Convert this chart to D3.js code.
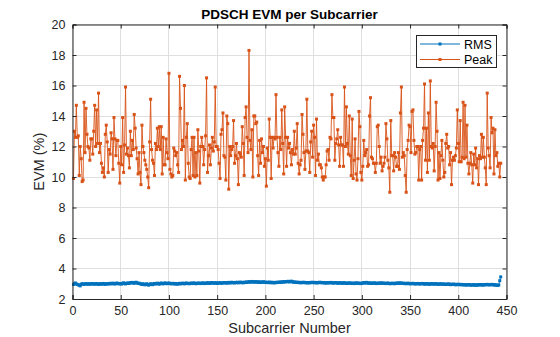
<!DOCTYPE html>
<html><head><meta charset="utf-8">
<script src="https://cdn.jsdelivr.net/npm/d3@7"></script>
<style>
html,body{margin:0;padding:0;background:#fff;}
svg{display:block;font-family:"Liberation Sans",Arial,Helvetica,sans-serif;}
</style></head>
<body><svg id="c" width="560" height="337"></svg>
<script>
const titleText = "PDSCH EVM per Subcarrier";
const xLabelText = "Subcarrier Number";
const yLabelText = "EVM (%)";
const seriesNames = ["RMS", "Peak"];
const xTicks = [0,50,100,150,200,250,300,350,400,450];
const yTicks = [2,4,6,8,10,12,14,16,18,20];

const rmsValues = [
2.95,3.02,3.05,2.98,2.96,2.93,2.90,2.86,2.97,3.00,2.98,2.96,2.99,3.01,2.97,2.98,3.00,2.97,2.99,3.01,
2.98,3.00,2.97,2.99,3.01,2.98,2.96,2.99,3.00,2.97,2.99,3.02,2.98,2.96,3.00,3.01,2.98,3.00,3.03,2.99,
3.01,3.04,3.00,2.98,3.02,3.05,3.01,2.99,3.02,3.00,2.98,3.03,3.06,3.01,2.99,3.03,3.05,3.02,3.04,3.07,
3.05,3.09,3.06,3.03,3.07,3.10,3.05,3.02,3.04,3.01,2.98,2.95,3.00,2.96,2.93,2.97,3.00,2.94,2.91,2.96,
3.00,2.97,2.94,2.99,3.02,2.98,3.01,3.04,3.00,2.97,3.02,3.05,3.01,2.99,3.03,3.06,3.02,3.00,3.03,3.05,
3.02,2.99,3.01,3.03,3.00,2.98,3.02,2.99,2.97,3.01,3.03,2.99,3.01,3.04,3.02,2.99,3.03,3.05,3.01,3.03,
3.00,3.02,3.05,3.01,3.03,3.06,3.02,3.00,3.04,3.02,3.05,3.03,3.01,3.04,3.06,3.03,3.01,3.05,3.03,3.07,
3.04,3.02,3.05,3.08,3.04,3.06,3.03,3.07,3.05,3.02,3.06,3.04,3.07,3.05,3.03,3.06,3.08,3.05,3.07,3.04,
3.06,3.09,3.05,3.07,3.10,3.06,3.08,3.05,3.09,3.07,3.10,3.06,3.08,3.11,3.07,3.09,3.06,3.10,3.08,3.12,
3.09,3.11,3.14,3.10,3.12,3.15,3.11,3.13,3.10,3.14,3.12,3.09,3.13,3.11,3.08,3.12,3.10,3.13,3.09,3.11,
3.08,3.10,3.07,3.11,3.09,3.06,3.10,3.08,3.05,3.09,3.07,3.10,3.08,3.11,3.09,3.12,3.10,3.13,3.11,3.14,
3.12,3.15,3.13,3.16,3.12,3.14,3.17,3.13,3.10,3.12,3.09,3.11,3.08,3.10,3.07,3.09,3.06,3.08,3.10,3.07,
3.09,3.06,3.08,3.05,3.08,3.06,3.09,3.07,3.10,3.08,3.06,3.09,3.07,3.05,3.08,3.10,3.07,3.09,3.06,3.08,
3.05,3.07,3.04,3.06,3.08,3.05,3.07,3.09,3.06,3.04,3.07,3.05,3.08,3.06,3.03,3.05,3.07,3.04,3.06,3.03,
3.05,3.07,3.04,3.02,3.05,3.03,3.06,3.04,3.02,3.05,3.03,3.01,3.04,3.06,3.03,3.05,3.02,3.04,3.01,3.03,
3.05,3.08,3.04,3.06,3.09,3.05,3.03,3.06,3.04,3.02,3.05,3.03,3.06,3.04,3.01,3.03,3.05,3.02,3.04,3.06,
3.03,3.05,3.02,3.04,3.01,3.03,3.05,3.02,3.00,3.03,3.01,3.04,3.02,3.00,3.03,3.05,3.02,3.04,3.06,3.03,
3.05,3.02,3.04,3.01,3.03,3.00,3.02,3.04,3.01,2.99,3.02,3.00,3.03,3.01,2.98,3.01,2.99,3.02,3.00,2.98,
3.01,2.99,3.02,3.00,2.97,3.00,2.98,3.01,2.99,2.96,2.99,3.01,2.98,3.00,2.97,2.99,3.01,2.98,2.96,2.99,
2.97,3.00,2.98,2.96,2.99,2.97,2.95,2.98,2.96,2.99,2.97,2.94,2.97,2.95,2.98,2.96,2.93,2.96,2.94,2.97,
2.95,2.93,2.96,2.94,2.92,2.95,2.93,2.91,2.94,2.92,2.95,2.93,2.90,2.93,2.91,2.94,2.92,2.90,2.93,2.91,
2.94,2.92,2.95,2.93,2.91,2.94,2.92,2.95,2.93,2.96,2.94,2.92,2.95,2.93,2.96,2.94,2.91,2.94,2.92,2.90,
2.90,2.92,3.20,3.45
];

const peakValues = [
9.9,13.0,12.6,14.7,12.6,12.7,10.1,12.0,11.2,9.7,
9.8,14.9,11.6,14.5,12.8,12.0,11.9,11.1,12.5,12.5,
11.5,13.0,14.7,12.0,14.4,12.2,15.5,11.6,12.2,10.9,
10.3,10.6,10.0,12.8,13.4,12.3,10.3,11.8,11.5,12.9,
12.5,10.5,13.9,12.5,11.4,12.4,12.4,10.9,9.6,12.0,
10.8,13.9,10.3,12.1,15.9,11.5,11.9,11.4,10.6,13.0,
11.4,12.4,11.8,14.1,13.2,11.9,11.2,10.2,11.6,10.3,
9.5,13.4,12.0,11.6,11.1,10.8,10.5,10.0,9.3,12.3,
15.1,11.8,11.1,10.9,10.1,12.2,11.8,13.2,12.0,13.3,
11.8,13.3,10.2,12.6,10.8,10.8,12.5,11.6,11.2,16.8,
10.5,10.2,10.0,10.1,11.9,11.7,11.4,11.6,10.8,10.3,
16.6,14.5,11.8,12.4,12.0,16.0,9.8,12.6,13.5,10.9,
10.0,9.9,11.8,12.6,10.1,12.6,10.0,11.6,10.1,13.1,
11.7,9.6,12.0,12.6,12.0,10.8,11.8,12.7,16.5,10.3,
11.4,12.1,10.8,11.9,12.6,11.7,12.3,15.9,12.0,12.0,
11.8,10.9,9.9,12.8,13.1,14.2,11.4,11.3,9.8,14.0,
13.5,9.2,12.0,11.4,11.8,12.0,13.7,10.9,11.4,12.2,
11.2,9.5,11.6,11.5,11.3,13.3,12.2,10.1,13.9,14.6,
12.6,11.6,18.3,12.4,11.8,13.1,10.0,14.0,14.0,13.5,
13.6,11.4,10.1,12.4,10.9,12.5,11.6,12.0,10.7,11.2,
9.4,11.9,11.1,13.8,12.6,9.9,12.6,11.9,12.6,12.5,
15.4,12.6,11.6,10.7,12.6,11.8,14.4,12.2,10.2,14.6,
12.6,10.7,12.6,11.9,12.2,11.6,10.8,11.8,11.5,13.0,
11.5,11.9,13.5,10.9,10.2,10.8,11.1,14.1,12.8,11.6,
10.5,11.7,15.1,11.7,11.6,10.3,12.3,13.0,11.3,13.4,
12.6,10.1,13.8,11.1,11.5,10.8,10.8,10.6,10.0,9.8,
10.0,10.0,10.8,11.7,11.8,11.1,12.6,12.5,15.4,13.9,
13.9,11.1,12.2,12.5,13.1,12.1,10.7,12.6,12.1,12.1,
10.7,15.9,12.0,14.6,12.2,11.5,14.0,11.4,10.1,13.8,
9.9,11.1,12.5,10.2,9.8,11.2,14.3,13.3,10.3,9.8,
10.7,12.4,11.4,11.6,11.8,10.7,10.8,14.0,15.2,11.3,
11.2,10.9,10.9,10.3,10.9,13.3,13.4,12.0,10.9,11.3,
10.4,10.7,10.9,11.3,13.5,12.5,11.1,10.6,9.0,13.7,
11.4,11.4,10.4,11.6,11.3,10.7,10.7,11.6,10.5,14.2,
15.9,11.3,11.6,11.4,10.1,9.0,11.8,12.4,13.4,13.3,
11.6,14.3,14.4,12.4,11.5,11.6,12.0,12.0,9.8,11.8,
12.0,9.8,12.4,13.2,16.1,11.1,13.2,10.3,14.2,11.1,
16.3,12.0,11.9,12.2,10.4,12.0,14.9,13.0,9.8,11.6,
9.9,11.4,12.4,11.1,10.0,10.3,12.2,12.8,11.9,12.0,
10.8,11.6,9.5,11.1,11.3,11.1,11.4,11.9,14.4,12.2,
11.0,13.7,11.0,11.3,14.9,11.2,14.7,11.3,13.4,10.9,
10.2,10.9,11.6,10.8,9.6,11.5,10.8,11.9,10.6,11.2,
9.5,11.4,11.2,12.8,11.3,12.6,11.3,10.6,9.5,15.5,
11.9,11.4,10.6,13.9,12.9,13.2,10.2,13.1,11.4,11.6,
10.7,10.9,10.0,10.9
];

const subcarriers = d3.range(1, peakValues.length + 1);

const L = 72.5, R = 506.5, T = 24.5, B = 299;
const axisColor = "#262626";
const colors = ["#0072BD", "#D95319"];

const svg = d3.select("#c");
const x = d3.scaleLinear().domain([0, 450]).range([L, R]);
const y = d3.scaleLinear().domain([2, 20]).range([B, T]);

// grid
const g = svg.append("g");
g.selectAll(".gx").data(xTicks).join("line")
  .attr("x1", d => x(d)).attr("x2", d => x(d)).attr("y1", T).attr("y2", B)
  .attr("stroke", "#dfdfdf").attr("stroke-width", 1).attr("shape-rendering","crispEdges");
g.selectAll(".gy").data(yTicks).join("line")
  .attr("y1", d => y(d)).attr("y2", d => y(d)).attr("x1", L).attr("x2", R)
  .attr("stroke", "#dfdfdf").attr("stroke-width", 1).attr("shape-rendering","crispEdges");

// series
const series = [rmsValues, peakValues];
series.forEach((vals, si) => {
  const pts = vals.map((v, i) => [subcarriers[i], v]);
  const line = d3.line().x(d => x(d[0])).y(d => y(d[1]));
  svg.append("path").attr("d", line(pts)).attr("fill", "none")
    .attr("stroke", colors[si]).attr("stroke-width", 0.9);
  svg.append("g").selectAll("rect").data(pts).join("rect")
    .attr("x", d => x(d[0]) - 1.5).attr("y", d => y(d[1]) - 1.5)
    .attr("width", 3).attr("height", 3).attr("fill", colors[si]);
});

// axes
const xAxis = d3.axisBottom(x).tickValues(xTicks).tickSize(-4).tickPadding(7).tickFormat(d3.format("d"));
const yAxis = d3.axisLeft(y).tickValues(yTicks).tickSize(-4).tickPadding(7).tickFormat(d3.format("d"));
const gx = svg.append("g").attr("transform", `translate(0,${B})`).call(xAxis);
const gy = svg.append("g").attr("transform", `translate(${L},0)`).call(yAxis);
const gxt = svg.append("g").attr("transform", `translate(0,${T})`).call(d3.axisTop(x).tickValues(xTicks).tickSize(-4).tickFormat(""));
const gyr = svg.append("g").attr("transform", `translate(${R},0)`).call(d3.axisRight(y).tickValues(yTicks).tickSize(-4).tickFormat(""));
[gx, gy, gxt, gyr].forEach(a => {
  a.select(".domain").attr("stroke", axisColor).attr("stroke-width", 1);
  a.selectAll(".tick line").attr("stroke", axisColor);
  a.selectAll("text").attr("fill", axisColor).style("font-size", "12.5px")
    .style("font-family", "'Liberation Sans', Arial, sans-serif");
});

// labels
svg.append("text").attr("x", (L + R) / 2).attr("y", 19).attr("text-anchor", "middle")
  .style("font-weight", "bold").style("font-size", "13.5px").attr("fill", "#000").text(titleText);
svg.append("text").attr("x", (L + R) / 2).attr("y", 333).attr("text-anchor", "middle")
  .style("font-size", "14.5px").attr("fill", axisColor).text(xLabelText);
svg.append("text").attr("transform", `translate(44,${(T + B) / 2}) rotate(-90)`).attr("text-anchor", "middle")
  .style("font-size", "14.5px").attr("fill", axisColor).text(yLabelText);

// legend
const lg = svg.append("g");
const lx = 416.5, ly = 35.5, lw = 80, lh = 32;
lg.append("rect").attr("x", lx).attr("y", ly).attr("width", lw).attr("height", lh)
  .attr("fill", "#fff").attr("stroke", axisColor).attr("stroke-width", 1);
seriesNames.forEach((name, i) => {
  const yy = 44 + i * 15.5;
  lg.append("line").attr("x1", lx + 3.5).attr("x2", lx + 43.5).attr("y1", yy).attr("y2", yy)
    .attr("stroke", colors[i]).attr("stroke-width", 1);
  lg.append("rect").attr("x", lx + 23.5 - 1.5).attr("y", yy - 1.5).attr("width", 3).attr("height", 3).attr("fill", colors[i]);
  lg.append("text").attr("x", lx + 47.5).attr("y", yy + 4.5).style("font-size", "12.5px")
    .attr("fill", "#000").text(name);
});
</script></body></html>
